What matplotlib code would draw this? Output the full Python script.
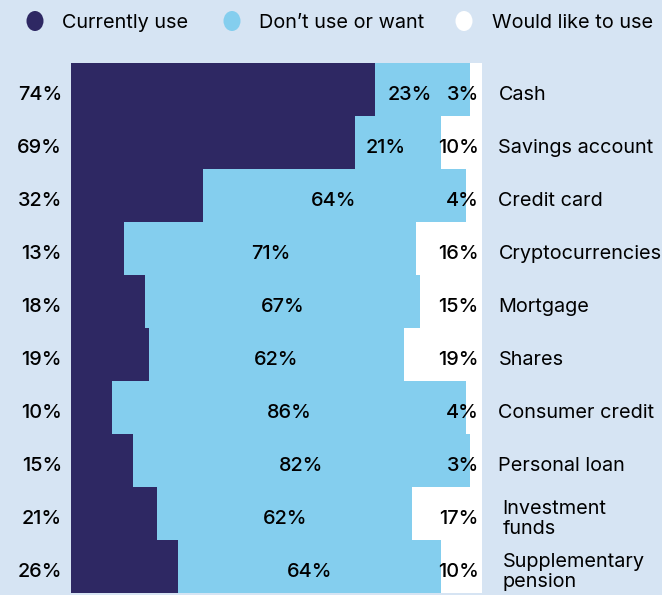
import matplotlib.pyplot as plt
from matplotlib.patches import Ellipse

categories = ["Cash", "Savings account", "Credit card", "Cryptocurrencies",
              "Mortgage", "Shares", "Consumer credit", "Personal loan",
              "Investment\nfunds", "Supplementary\npension"]
currently_use = [74, 69, 32, 13, 18, 19, 10, 15, 21, 26]
dont_use = [23, 21, 64, 71, 67, 62, 86, 82, 62, 64]
would_like = [3, 10, 4, 16, 15, 19, 4, 3, 17, 10]
series_names = ["Currently use", "Don\u2019t use or want", "Would like to use"]

BG = "#d6e4f3"
NAVY = "#2e2863"
SKY = "#84ceee"
WHITE = "#ffffff"
FONT = ["Inter", "DejaVu Sans"]
W, H = 662, 595

fig = plt.figure(figsize=(W / 100, H / 100), dpi=100, facecolor=BG)
ax = fig.add_axes([71 / W, 2 / H, 411 / W, 530 / H])
ax.set_facecolor(BG)

y = list(range(len(categories)))
ax.barh(y, currently_use, height=1.0, color=NAVY, linewidth=0)
ax.barh(y, dont_use, left=currently_use, height=1.0, color=SKY, linewidth=0)
left2 = [a + b for a, b in zip(currently_use, dont_use)]
ax.barh(y, would_like, left=left2, height=1.0, color=WHITE, linewidth=0)

ax.set_xlim(0, 100)
ax.set_ylim(len(categories) - 0.5, -0.5)
ax.axis("off")

fs = 14.3
dy = 0.1
for i in y:
    ax.text(-2.2, i + dy, f"{currently_use[i]}%", ha="right", va="center",
            fontsize=fs, family=FONT, fontweight="medium", color="black", clip_on=False)
    mid = currently_use[i] + dont_use[i] / 2
    if dont_use[i] < 30:
        # keep narrow-segment labels clear of the right-hand value
        mid -= 3
    ax.text(mid, i + dy, f"{dont_use[i]}%",
            ha="center", va="center", fontsize=fs, family=FONT,
            fontweight="medium", color="black")
    ax.text(99.2, i + dy, f"{would_like[i]}%", ha="right", va="center",
            fontsize=fs, family=FONT, fontweight="medium", color="black")
    xoff = 104 if "\n" not in categories[i] else 105
    ax.text(xoff, i + dy, categories[i], ha="left", va="center", fontsize=fs,
            family=FONT, color="black", clip_on=False, linespacing=1.12)

# legend: dots and labels placed along the top strip
legend_dots = [35, 232, 464]
legend_text = [62, 259, 492]
for cx, tx, c, name in zip(legend_dots, legend_text, (NAVY, SKY, WHITE), series_names):
    fig.add_artist(Ellipse((cx / W, 1 - 21 / H), 17 / W, 20 / H,
                           transform=fig.transFigure, facecolor=c, linewidth=0))
    fig.text(tx / W, 1 - 23 / H, name, ha="left", va="center", fontsize=fs,
             family=FONT, color="black")

fig.savefig("out.png", dpi=100, facecolor=BG)
